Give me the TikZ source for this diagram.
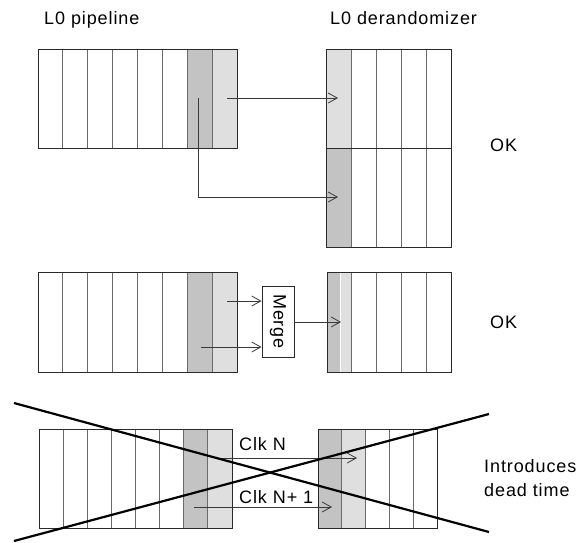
\documentclass[tikz,border=0pt]{standalone}
\usepackage{fontspec}
\setmainfont{Liberation Sans}[LetterSpace=5]
\usetikzlibrary{arrows.meta}
\definecolor{cellDark}{HTML}{C3C3C3}
\definecolor{cellLight}{HTML}{DFDFDF}
\definecolor{sepGray}{HTML}{6A6A6A}
\definecolor{edgeInk}{HTML}{2A2A2A}
\definecolor{arrowInk}{HTML}{3A3A3A}
\tikzset{
  label/.style={font=\fontsize{18}{21}\selectfont, inner sep=0pt, anchor=base west},
  outline/.style={draw=edgeInk, line width=0.9pt},
  sep/.style={draw=sepGray, line width=0.8pt},
  flow/.style={draw=arrowInk, line width=0.8pt, -{Straight Barb[length=9pt,width=10pt,line width=0.8pt]}},
  mergebox/.style={draw=edgeInk, line width=0.9pt, fill=white, minimum width=32pt, minimum height=71pt, inner sep=0pt},
  strike/.style={draw=black, line width=2.2pt}
}
% \cellblock{x0}{y0}{x1}{y1}{columns}: column separators and outline of a register block
\newcommand{\cellblock}[5]{%
  \pgfmathsetmacro{\cw}{(#3-#1)/#5}%
  \foreach \k in {1,...,\numexpr#5-1\relax}{%
    \draw[sep] ({#1+\k*\cw},#2) -- ({#1+\k*\cw},#4);
  }%
  \draw[outline] (#1,#2) rectangle (#3,#4);
}
\begin{document}
\begin{tikzpicture}[x=1pt,y=-1pt]
\useasboundingbox (0,0) rectangle (580,542);
\fill[white] (0,0) rectangle (580,542);

% ---- headings
\node[label] (hpipe) at (44,24) {L0 pipeline};
\node[label] (hderand) at (330,24) {L0 derandomizer};

% ---- upper case: two words into two derandomizer slots
\fill[cellDark] (188,49) rectangle (212.5,148);
\fill[cellLight] (212.5,49) rectangle (237,148);
\cellblock{38}{49}{237}{148}{8}
\node[inner sep=0pt, minimum width=199pt, minimum height=99pt] (pipeA) at (137.5,98.5) {};

\fill[cellLight] (326,49) rectangle (351,148);
\fill[cellDark] (326,148) rectangle (351,247);
\cellblock{326}{49}{451}{247}{5}
\draw[outline] (326,148) -- (451,148);
\node[inner sep=0pt, minimum width=125pt, minimum height=198pt] (derA) at (388.5,148) {};

\coordinate (a1s) at (227,98);
\coordinate (a1e) at (338,98);
\coordinate (a2s) at (198,98);
\coordinate (a2e) at (338,197);
\draw[flow] (a1s) -- (a1e);
\draw[flow] (a2s) |- (a2e);
\node[label] (okA) at (490,151) {OK};

% ---- middle case: two words merged into one slot
\fill[cellDark] (188,272) rectangle (212.5,372);
\fill[cellLight] (212.5,272) rectangle (237,372);
\cellblock{38}{272}{237}{372}{8}

\fill[cellDark] (327,272) rectangle (340,372);
\fill[cellLight] (341,272) rectangle (351,372);
\foreach \xx in {351,376,401,426}{\draw[sep] (\xx,272) -- (\xx,372);}
\draw[outline] (327,272) rectangle (451,372);
\node[inner sep=0pt, minimum width=124pt, minimum height=100pt] (derB) at (389,322) {};

\node[mergebox] (merge) at (278,321.5) {};
\node[font=\fontsize{18}{21}\selectfont, rotate=-90, inner sep=0pt] (mergetxt) at (merge.center) {Merge};
\coordinate (b1s) at (227,301);
\coordinate (b2s) at (201,347);
\coordinate (b3e) at (341,322);
\draw[flow] (b1s) -- (b1s -| merge.west);
\draw[flow] (b2s) -- (b2s -| merge.west);
\draw[flow] (merge.east |- b3e) -- (b3e);
\node[label] (okB) at (490,328) {OK};

% ---- lower case: one word per clock
\fill[cellDark] (184,429) rectangle (208,528);
\fill[cellLight] (208,429) rectangle (232,528);
\cellblock{39}{429}{232}{528}{8}

\fill[cellDark] (318,429) rectangle (342,528);
\fill[cellLight] (342,429) rectangle (366,528);
\cellblock{318}{429}{437}{528}{5}

\node[label] (clkn) at (239,450) {Clk N};
\node[label] (clkn1) at (239,503) {Clk N+ 1};
\coordinate (c1s) at (218,458);
\coordinate (c1e) at (357,458);
\coordinate (c2s) at (194,507);
\coordinate (c2e) at (332,507);
\draw[flow] (c1s) -- (c1e);
\draw[flow] (c2s) -- (c2e);

\node[label] (dead1) at (484,472) {Introduces};
\node[label] (dead2) at (484,496) {dead time};

% crossed out
\coordinate (x1a) at (14,403);
\coordinate (x1b) at (489,532);
\coordinate (x2a) at (14,541);
\coordinate (x2b) at (489,414);
\draw[strike] (x1a) -- (x1b);
\draw[strike] (x2a) -- (x2b);
\end{tikzpicture}
\end{document}
